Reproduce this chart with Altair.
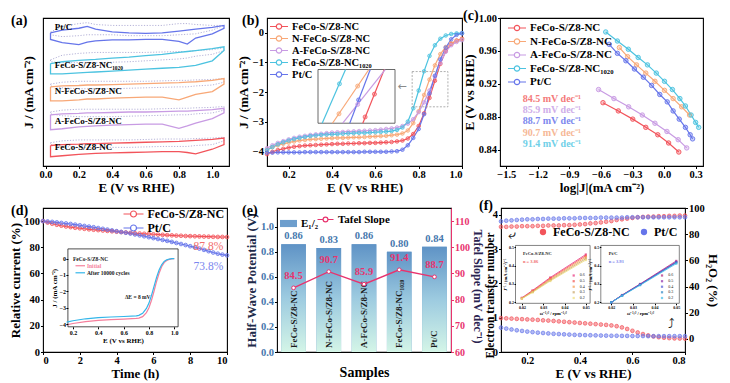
import altair as alt
import pandas as pd

FONT = "Liberation Serif"
RED, ORG, PUR, CYN, BLU = "#f2545b", "#f8a877", "#c89be3", "#4cc3e0", "#6675ea"
PINK = "#e8336e"

FECO = "FeCo-S/Z8-NC"
NFECO = "N-FeCo-S/Z8-NC"
AFECO = "A-FeCo-S/Z8-NC"
F1020 = "FeCo-S/Z8-NC₁₀₂₀"
PTC = "Pt/C"
SAMPLES = [FECO, NFECO, AFECO, F1020, PTC]
COLORS = [RED, ORG, PUR, CYN, BLU]
COLOR_OF = dict(zip(SAMPLES, COLORS))
CSCALE = alt.Scale(domain=SAMPLES, range=COLORS)

WA, WB, WC, H1 = 186, 195, 203, 148
WD, WE, WF, H2 = 184, 174, 184, 144
S1, S2 = 38, 50

LINE_SYM = "M-2,0H-0.6M0.6,0H2M0.6,0A0.6,0.6,0,1,1,-0.6,0A0.6,0.6,0,1,1,0.6,0Z"
RECT_SYM = "M-1,-0.42H1V0.42H-1Z"


def sc(domain, rng=None):
    if rng is None:
        return alt.Scale(domain=domain, nice=False, zero=False)
    return alt.Scale(domain=domain, range=rng, nice=False, zero=False)


def ptitle(t, dx, dy=10):
    return alt.TitleParams(t, anchor="start", frame="group", orient="top", offset=0,
                           baseline="top", dx=dx, dy=dy, font=FONT, fontSize=14,
                           fontWeight="bold", color="black")


def line_legend(x, y, fs=11, size=81, offset=7.5, rp=1.5):
    return alt.Legend(title=None, orient="none", legendX=x, legendY=y, direction="vertical",
                      labelFont=FONT, labelFontWeight="bold", labelFontSize=fs,
                      labelColor="black", labelLimit=250, symbolType=LINE_SYM,
                      symbolSize=size, symbolStrokeWidth=1.2, symbolFillColor="white",
                      rowPadding=rp, labelOffset=offset, padding=0)


def ins_axis(orient, offset, values, fmt, title, fs=6, tfs=7, tick=2):
    return alt.Axis(orient=orient, offset=offset, values=values, format=fmt, title=title,
                    labelFontSize=fs, titleFontSize=tfs, tickSize=tick, labelPadding=0.5,
                    titlePadding=1, domain=False, zindex=1, ticks=True, grid=False)


# ======================= (a) CV loops =======================
CV_E = [0.03, 0.1, 0.2, 0.25, 0.3, 0.4, 0.5, 0.6, 0.7, 0.8, 0.85, 0.9, 1.0, 1.07]
CV_SOLID_UP = {
    PTC:   [143, 146, 148, 150, 147, 144, 143, 142.5, 143, 145, 146, 147, 149, 151],
    F1020: [110, 112, 113.5, 114, 114.5, 116, 117, 118.5, 120, 122, 123, 124, 126, 128],
    NFECO: [85, 86, 86.5, 87, 87, 87.5, 88, 88.5, 89, 89.5, 90, 90.5, 92, 94],
    AFECO: [55, 56, 56.5, 57, 57, 57.5, 58, 58, 58.5, 59, 59, 59.5, 60.5, 62],
    FECO:  [22, 23, 23.5, 24, 24, 24.5, 25, 25.5, 26, 26.5, 27, 27.5, 28.5, 30],
}
CV_SOLID_DN = {
    PTC:   [136, 132.5, 130.5, 133, 134.5, 135.5, 135.5, 136, 136, 134, 131, 137.5, 142, 148],
    F1020: [99, 99, 100, 100.5, 101, 102, 103, 104, 105, 106, 107, 108, 113, 124],
    NFECO: [70, 70, 71, 72, 72, 73, 73.5, 74, 74, 71, 74, 77, 80, 88],
    AFECO: [39, 40, 42, 42.5, 43, 44, 44.5, 45, 45, 40.5, 43, 46, 51, 57],
    FECO:  [10, 11, 12.5, 13, 13.5, 14, 14.5, 15, 15.5, 15.5, 14.5, 13, 18, 23],
}
CV_DOT_UP = {
    PTC:   [144, 150, 153, 154, 152, 151, 151, 151, 151, 153, 153, 152, 151, 151],
    F1020: [114, 119, 121, 121.5, 122, 122, 122, 122, 122.5, 123, 123, 124, 125, 127],
    NFECO: [88, 90, 91, 91, 91, 91, 91, 91, 91.5, 92, 92, 92.5, 93, 94],
    AFECO: [58, 60, 61, 61, 61, 61, 61, 61, 61.5, 62, 62, 62.5, 63, 64],
    FECO:  [25, 27, 28, 28, 28, 28, 28, 28.5, 29, 29, 29, 29.5, 30, 31],
}
CV_DOT_DN = {
    PTC:   [141, 139, 140, 141, 141, 141, 140, 140, 140, 141, 141.5, 142, 146, 151],
    F1020: [112, 111, 111, 111, 111, 111.5, 112, 113, 114, 115, 116, 118, 120, 124],
    NFECO: [86, 84, 83, 83, 83, 83, 83.5, 84, 84.5, 85, 85, 86, 87, 90],
    AFECO: [56, 54, 53, 53, 53, 53, 53.5, 54, 54.5, 55, 55, 56, 57, 60],
    FECO:  [23, 21, 20, 20, 20, 20, 20, 20.5, 21, 21, 21, 22, 23, 27],
}
A_LAB_TEXT = [PTC, F1020, NFECO, AFECO, FECO]
A_LAB_E = [0.055, 0.055, 0.055, 0.055, 0.055]
A_LAB_J = [149, 109, 81, 48, 20]

rows = []
for s in SAMPLES:
    for kind, up, dn in (("dot", CV_DOT_UP, CV_DOT_DN), ("solid", CV_SOLID_UP, CV_SOLID_DN)):
        seq = list(zip(CV_E, up[s])) + list(zip(CV_E[::-1], dn[s][::-1])) + [(CV_E[0], up[s][0])]
        for i, (e, j) in enumerate(seq):
            rows.append({"s": s, "kind": kind, "key": s + "|" + kind, "i": i,
                         "E": e, "J": j, "hex": COLOR_OF[s]})
df_a = pd.DataFrame(rows)
df_a_lab = pd.DataFrame({"t": A_LAB_TEXT, "E": A_LAB_E, "J": A_LAB_J})

xa, ya = sc([-0.015, 1.1]), sc([0, 159])
a_dot = alt.Chart(df_a[df_a["kind"] == "dot"]).mark_line(
    strokeWidth=0.9, strokeDash=[1.2, 1.6], color="#aeaad4").encode(
    x=alt.X("E:Q", scale=xa, axis=alt.Axis(values=[0, 0.2, 0.4, 0.6, 0.8, 1.0], format=".1f",
                                             title="E (V vs RHE)")),
    y=alt.Y("J:Q", scale=ya, axis=alt.Axis(labels=False, ticks=False, title="J / (mA cm⁻²)",
                                             titlePadding=8)),
    detail="key:N", order="i:Q")
a_sol = alt.Chart(df_a[df_a["kind"] == "solid"]).mark_line(strokeWidth=1.3).encode(
    x=alt.X("E:Q", scale=xa, axis=None), y=alt.Y("J:Q", scale=ya, axis=None),
    stroke=alt.Stroke("hex:N", scale=None), detail="key:N", order="i:Q")
a_txt = alt.Chart(df_a_lab).mark_text(align="left", baseline="middle", font=FONT,
                                      fontWeight="bold", fontSize=9, color="black").encode(
    x=alt.X("E:Q", scale=xa, axis=None), y=alt.Y("J:Q", scale=ya, axis=None), text="t:N")
panel_a = alt.layer(a_dot, a_sol, a_txt).resolve_scale(
    x="independent", y="independent").properties(width=WA, height=H1, title=ptitle("(a)", -32))

# ======================= (b) LSV =======================
E_B = [0.1, 0.125, 0.15, 0.175, 0.2, 0.225, 0.25, 0.275, 0.3, 0.325, 0.35, 0.375, 0.4,
       0.425, 0.45, 0.475, 0.5, 0.525, 0.55, 0.575, 0.6, 0.625, 0.65, 0.675, 0.7, 0.725,
       0.75, 0.775, 0.8, 0.825, 0.85, 0.875, 0.9, 0.925, 0.95, 0.975, 1.0]
LSV = {
    FECO:  [-4.10, -4.02, -3.96, -3.92, -3.88, -3.85, -3.83, -3.81, -3.80, -3.79, -3.78, -3.77,
            -3.76, -3.75, -3.75, -3.74, -3.74, -3.73, -3.73, -3.72, -3.72, -3.71, -3.70, -3.69,
            -3.67, -3.64, -3.57, -3.42, -3.15, -2.72, -2.20, -1.62, -1.05, -0.62, -0.38, -0.26, -0.20],
    NFECO: [-3.95, -3.86, -3.80, -3.75, -3.71, -3.67, -3.64, -3.62, -3.60, -3.59, -3.58, -3.57,
            -3.56, -3.55, -3.55, -3.54, -3.53, -3.53, -3.52, -3.51, -3.50, -3.49, -3.48, -3.46,
            -3.44, -3.40, -3.30, -3.05, -2.65, -2.10, -1.58, -1.10, -0.72, -0.48, -0.35, -0.27, -0.22],
    AFECO: [-3.90, -3.80, -3.72, -3.66, -3.60, -3.55, -3.51, -3.48, -3.45, -3.43, -3.41, -3.39,
            -3.37, -3.36, -3.35, -3.34, -3.33, -3.32, -3.31, -3.30, -3.29, -3.27, -3.25, -3.23,
            -3.20, -3.15, -3.07, -2.92, -2.68, -2.35, -1.95, -1.48, -1.02, -0.64, -0.42, -0.31, -0.25],
    F1020: [-3.97, -3.86, -3.77, -3.70, -3.64, -3.59, -3.55, -3.52, -3.49, -3.47, -3.45, -3.44,
            -3.43, -3.42, -3.41, -3.40, -3.39, -3.38, -3.38, -3.37, -3.36, -3.35, -3.34, -3.32,
            -3.28, -3.20, -3.00, -2.55, -1.95, -1.30, -0.78, -0.42, -0.20, -0.09, -0.04, -0.02, -0.01],
    PTC:   [-4.05, -4.05, -4.04, -4.04, -4.04, -4.04, -4.04, -4.03, -4.03, -4.03, -4.03, -4.03,
            -4.03, -4.03, -4.03, -4.03, -4.03, -4.03, -4.02, -4.02, -4.02, -4.02, -4.02, -4.01,
            -4.00, -3.95, -3.80, -3.55, -3.25, -2.75, -2.05, -1.45, -0.90, -0.50, -0.22, -0.07, -0.02],
}
BOX_B = {"E": [0.77], "E2": [0.935], "J": [-2.5], "J2": [-1.31]}
INS_B_DOM_E = [0.77, 0.935]
INS_B_DOM_J = [-2.5, -1.3]
INS_B_BOT = {FECO: 0.866, NFECO: 0.801, AFECO: 0.823, F1020: 0.779, PTC: 0.838}
INS_B_TOP = {FECO: 0.912, NFECO: 0.879, AFECO: 0.914, F1020: 0.829, PTC: 0.882}
INS_B_PT_S = [F1020, NFECO, NFECO, PTC, AFECO, FECO, FECO]
INS_B_PT_E = [0.816, 0.855, 0.815, 0.857, 0.855, 0.871, 0.891]
INS_B_PT_J = [-1.62, -1.67, -2.29, -1.98, -2.08, -2.36, -1.85]

df_b = pd.DataFrame([{"s": s, "hex": COLOR_OF[s], "E": e, "J": j}
                     for s in SAMPLES for e, j in zip(E_B, LSV[s])])
xb, yb = sc([0.1, 1.0]), sc([-4.5, 0.5])
b_line = alt.Chart(df_b).mark_line(strokeWidth=1.2).encode(
    x=alt.X("E:Q", scale=xb, axis=alt.Axis(values=[0.2, 0.4, 0.6, 0.8, 1.0], format=".1f",
                                             title="E (V vs RHE)")),
    y=alt.Y("J:Q", scale=yb, axis=alt.Axis(values=[-4, -3, -2, -1, 0], format="d",
                                             title="J / (mA cm⁻²)")),
    color=alt.Color("s:N", scale=CSCALE, legend=line_legend(6.5, 3, fs=10.5, rp=1)))
b_pts = alt.Chart(df_b).mark_point(shape="circle", size=13, strokeWidth=0.8, fillOpacity=0.35).encode(
    x=alt.X("E:Q", scale=xb, axis=None), y=alt.Y("J:Q", scale=yb, axis=None),
    stroke=alt.Stroke("hex:N", scale=None), fill=alt.Fill("hex:N", scale=None))
b_box = alt.Chart(pd.DataFrame(BOX_B)).mark_rect(
    fillOpacity=0, stroke="#9a9a9a", strokeDash=[2, 1.5], strokeWidth=0.8).encode(
    x=alt.X("E:Q", scale=xb, axis=None), x2="E2:Q",
    y=alt.Y("J:Q", scale=yb, axis=None), y2="J2:Q")
b_arrow = alt.Chart(pd.DataFrame({"E": [0.724], "J": [-1.82], "t": ["←"]})).mark_text(
    font="DejaVu Sans", fontSize=11, color="#8a8a8a").encode(
    x=alt.X("E:Q", scale=xb, axis=None), y=alt.Y("J:Q", scale=yb, axis=None), text="t:N")
xbi = sc(INS_B_DOM_E, [51, 128])
ybi = sc(INS_B_DOM_J, [H1 * 0.711, H1 * 0.348])
b_ifr = alt.Chart(pd.DataFrame({"E": [INS_B_DOM_E[0]], "E2": [INS_B_DOM_E[1]],
                                "J": [INS_B_DOM_J[0]], "J2": [INS_B_DOM_J[1]]})).mark_rect(
    fill="white", stroke="#444444", strokeWidth=0.8).encode(
    x=alt.X("E:Q", scale=xbi, axis=None), x2="E2:Q",
    y=alt.Y("J:Q", scale=ybi, axis=None), y2="J2:Q")
df_bil = pd.DataFrame([{"s": s, "hex": COLOR_OF[s], "E": e, "J": j}
                       for s in SAMPLES
                       for e, j in ((INS_B_BOT[s], INS_B_DOM_J[0]), (INS_B_TOP[s], INS_B_DOM_J[1]))])
b_il = alt.Chart(df_bil).mark_line(strokeWidth=1.2).encode(
    x=alt.X("E:Q", scale=xbi, axis=None), y=alt.Y("J:Q", scale=ybi, axis=None),
    stroke=alt.Stroke("hex:N", scale=None), detail="s:N")
df_bip = pd.DataFrame({"hex": [COLOR_OF[s] for s in INS_B_PT_S], "E": INS_B_PT_E, "J": INS_B_PT_J})
b_ip = alt.Chart(df_bip).mark_point(shape="circle", size=16, strokeWidth=0.8, fillOpacity=0.35).encode(
    x=alt.X("E:Q", scale=xbi, axis=None), y=alt.Y("J:Q", scale=ybi, axis=None),
    stroke=alt.Stroke("hex:N", scale=None), fill=alt.Fill("hex:N", scale=None))
panel_b = alt.layer(b_line, b_pts, b_box, b_arrow, b_ifr, b_il, b_ip).resolve_scale(
    x="independent", y="independent").properties(width=WB, height=H1, title=ptitle("(b)", -25))

# ======================= (c) Tafel =======================
TAFEL_PTS = {
    FECO:  ([-0.581, -0.435, -0.298, -0.174, -0.060, 0.043, 0.140],
            [0.897, 0.887, 0.877, 0.867, 0.858, 0.848, 0.837]),
    NFECO: ([-0.425, -0.347, -0.262, -0.174, -0.087, 0.004, 0.086, 0.167, 0.242],
            [0.964, 0.953, 0.943, 0.933, 0.923, 0.912, 0.902, 0.892, 0.882]),
    AFECO: ([-0.623, -0.477, -0.337, -0.207, -0.087, 0.027, 0.134, 0.215],
            [0.913, 0.902, 0.892, 0.882, 0.872, 0.862, 0.852, 0.842]),
    F1020: ([-0.555, -0.444, -0.340, -0.246, -0.158, -0.074, 0.004, 0.079, 0.150, 0.203, 0.257, 0.300, 0.329],
            [0.983, 0.972, 0.962, 0.952, 0.943, 0.933, 0.923, 0.913, 0.902, 0.893, 0.882, 0.873, 0.867]),
    PTC:   ([-0.522, -0.444, -0.363, -0.282, -0.197, -0.119, -0.041, 0.030, 0.086, 0.144, 0.203, 0.248, 0.271],
            [0.968, 0.957, 0.948, 0.938, 0.928, 0.918, 0.907, 0.898, 0.887, 0.877, 0.867, 0.858, 0.853]),
}
SLOPE_TEXT = ["84.5 mV dec⁻¹", "85.9 mV dec⁻¹", "88.7 mV dec⁻¹", "90.7 mV dec⁻¹", "91.4 mV dec⁻¹"]
SLOPE_COL = ["#f47a7a", "#cfaee9", "#7d88ee", "#f6b896", "#6fd0e8"]
SLOPE_L = [-1.344, -1.344, -1.344, -1.344, -1.344]
SLOPE_E = [0.902, 0.888, 0.875, 0.860, 0.847]

df_c = pd.DataFrame([{"s": s, "hex": COLOR_OF[s], "L": l, "E": e}
                     for s in SAMPLES for l, e in zip(*TAFEL_PTS[s])])
xc, yc = sc([-1.56, 0.37]), sc([0.82, 1.0])
c_line = alt.Chart(df_c).mark_line(strokeWidth=1.2).encode(
    x=alt.X("L:Q", scale=xc, axis=alt.Axis(values=[-1.5, -1.2, -0.9, -0.6, -0.3, 0.0, 0.3],
                                             format=".1f", title="log|J|(mA cm⁻²)")),
    y=alt.Y("E:Q", scale=yc, axis=alt.Axis(values=[0.84, 0.88, 0.92, 0.96, 1.0], format=".2f",
                                             title="E (V vs RHE)")),
    color=alt.Color("s:N", scale=CSCALE, legend=line_legend(11.5, 4.5)))
c_pts = alt.Chart(df_c).mark_point(shape="circle", size=20, strokeWidth=0.9, fillOpacity=0.35).encode(
    x=alt.X("L:Q", scale=xc, axis=None), y=alt.Y("E:Q", scale=yc, axis=None),
    stroke=alt.Stroke("hex:N", scale=None), fill=alt.Fill("hex:N", scale=None))
c_txt = alt.Chart(pd.DataFrame({"t": SLOPE_TEXT, "hex": SLOPE_COL, "L": SLOPE_L, "E": SLOPE_E})).mark_text(
    align="left", baseline="middle", font=FONT, fontWeight="bold", fontSize=10).encode(
    x=alt.X("L:Q", scale=xc, axis=None), y=alt.Y("E:Q", scale=yc, axis=None), text="t:N",
    fill=alt.Fill("hex:N", scale=None))
panel_c = alt.layer(c_line, c_pts, c_txt).resolve_scale(
    x="independent", y="independent").properties(width=WC, height=H1, title=ptitle("(c)", -37))

# ======================= (d) stability =======================
T_D = [0, 0.25, 0.5, 0.75, 1, 1.25, 1.5, 1.75, 2, 2.25, 2.5, 2.75, 3, 3.25, 3.5, 3.75, 4,
       4.25, 4.5, 4.75, 5, 5.25, 5.5, 5.75, 6, 6.25, 6.5, 6.75, 7, 7.25, 7.5, 7.75, 8, 8.25,
       8.5, 8.75, 9, 9.25, 9.5, 9.75, 10]
REL_FECO = [100, 98.9, 98.0, 97.2, 96.5, 95.9, 95.4, 94.9, 94.5, 94.1, 93.7, 93.4, 93.1, 92.8,
            92.5, 92.2, 91.9, 91.6, 91.3, 91.0, 90.7, 90.5, 90.3, 90.1, 89.9, 89.7, 89.5, 89.3,
            89.1, 88.9, 88.8, 88.6, 88.5, 88.4, 88.3, 88.2, 88.1, 88.0, 87.9, 87.9, 87.8]
REL_PT = [100, 99.7, 99.4, 99.0, 98.6, 98.2, 97.8, 97.3, 96.8, 96.3, 95.8, 95.3, 94.7, 94.1,
          93.5, 92.9, 92.3, 91.7, 91.1, 90.5, 89.8, 89.1, 88.4, 87.7, 87.0, 86.3, 85.6, 84.9,
          84.1, 83.3, 82.5, 81.7, 80.8, 79.9, 79.0, 78.0, 77.0, 76.0, 75.1, 74.4, 73.8]
D_END_TEXT = ["87.8%", "73.8%"]
D_END_COL = ["#f26d6d", "#7b86ee"]
D_END_T = [9.8, 9.8]
D_END_Y = [80.5, 65.0]
INIT_C, AFTER_C = "#f57f9c", "#33b6ea"
INS_D_E = [0.15, 0.2, 0.3, 0.4, 0.5, 0.6, 0.7, 0.72, 0.75, 0.78, 0.8, 0.82, 0.84, 0.86, 0.88,
           0.9, 0.92, 0.94, 0.96, 0.98, 1.0]
INS_D_INIT = [-4.05, -3.97, -3.85, -3.78, -3.73, -3.70, -3.66, -3.64, -3.55, -3.30, -3.00,
              -2.55, -2.0, -1.4, -0.9, -0.5, -0.25, -0.12, -0.05, -0.02, -0.01]
INS_D_AFTER = [-3.88, -3.80, -3.68, -3.61, -3.57, -3.54, -3.50, -3.47, -3.35, -3.05, -2.72,
               -2.25, -1.7, -1.15, -0.7, -0.38, -0.18, -0.08, -0.03, -0.01, 0.0]
INS_D_DOM_E = [0.16, 1.03]
INS_D_DOM_J = [-4.17, 0.59]
D_IN_TOP, D_IN_BOT = H2 * 0.284, H2 * 0.825

DSC = alt.Scale(domain=[FECO, PTC], range=[RED, BLU])
df_d = pd.DataFrame([{"s": s, "hex": COLOR_OF[s], "t": t, "r": r}
                     for s, vals in ((FECO, REL_FECO), (PTC, REL_PT)) for t, r in zip(T_D, vals)])
xd, yd = sc([0, 10]), sc([0, 110])
d_line = alt.Chart(df_d).mark_line(strokeWidth=1.1).encode(
    x=alt.X("t:Q", scale=xd, axis=alt.Axis(values=[0, 2, 4, 6, 8, 10], format="d", title="Time (h)")),
    y=alt.Y("r:Q", scale=yd, axis=alt.Axis(values=[0, 20, 40, 60, 80, 100], format="d",
                                             title="Relative current (%)")),
    color=alt.Color("s:N", scale=DSC, legend=line_legend(84.5, 0, fs=12, size=100, offset=8, rp=2)))
d_pts = alt.Chart(df_d).mark_point(shape="circle", size=14, strokeWidth=0.8, fillOpacity=0.3).encode(
    x=alt.X("t:Q", scale=xd, axis=None), y=alt.Y("r:Q", scale=yd, axis=None),
    stroke=alt.Stroke("hex:N", scale=None), fill=alt.Fill("hex:N", scale=None))
d_end = alt.Chart(pd.DataFrame({"txt": D_END_TEXT, "hex": D_END_COL, "t": D_END_T, "r": D_END_Y})).mark_text(
    align="right", baseline="middle", font=FONT, fontSize=11.5).encode(
    x=alt.X("t:Q", scale=xd, axis=None), y=alt.Y("r:Q", scale=yd, axis=None), text="txt:N",
    fill=alt.Fill("hex:N", scale=None))
xdi = sc(INS_D_DOM_E, [24.9, 135.1])
ydi = sc(INS_D_DOM_J, [D_IN_BOT, D_IN_TOP])
d_ifr = alt.Chart(pd.DataFrame({"E": [INS_D_DOM_E[0]], "E2": [INS_D_DOM_E[1]],
                                "J": [INS_D_DOM_J[0]], "J2": [INS_D_DOM_J[1]]})).mark_rect(
    fill="white", stroke="#222222", strokeWidth=0.8).encode(
    x=alt.X("E:Q", scale=xdi, axis=ins_axis("bottom", -(H2 - D_IN_BOT), [0.2, 0.4, 0.6, 0.8, 1.0],
                                            ".1f", "E (V vs RHE)")),
    x2="E2:Q",
    y=alt.Y("J:Q", scale=ydi, axis=ins_axis("left", -24.9, [-4, -3, -2, -1, 0], "d",
                                            "J / (mA cm⁻²)")),
    y2="J2:Q")
df_dil = pd.DataFrame([{"s": s, "hex": c, "E": e, "J": j}
                       for s, c, vals in (("Initial", INIT_C, INS_D_INIT), ("After", AFTER_C, INS_D_AFTER))
                       for e, j in zip(INS_D_E, vals)])
d_il = alt.Chart(df_dil).mark_line(strokeWidth=1.2).encode(
    x=alt.X("E:Q", scale=xdi, axis=None), y=alt.Y("J:Q", scale=ydi, axis=None),
    stroke=alt.Stroke("hex:N", scale=None), detail="s:N")
d_ileg = alt.Chart(pd.DataFrame({"E": [0.22, 0.22], "E2": [0.295, 0.295], "J": [-0.44, -0.87],
                                 "hex": [INIT_C, AFTER_C]})).mark_rule(strokeWidth=1.2).encode(
    x=alt.X("E:Q", scale=xdi, axis=None), x2="E2:Q", y=alt.Y("J:Q", scale=ydi, axis=None),
    stroke=alt.Stroke("hex:N", scale=None))
d_itxt = alt.Chart(pd.DataFrame({
    "t": [FECO, "Initial", "After 10000 cycles", "ΔE = 8 mV"],
    "E": [0.20, 0.31, 0.31, 0.61], "J": [0.0, -0.44, -0.87, -2.34],
    "hex": ["#222222", INIT_C, "#222222", "#222222"]})).mark_text(
    align="left", baseline="middle", font=FONT, fontWeight="bold", fontSize=5.5).encode(
    x=alt.X("E:Q", scale=xdi, axis=None), y=alt.Y("J:Q", scale=ydi, axis=None), text="t:N",
    fill=alt.Fill("hex:N", scale=None))
panel_d = alt.layer(d_line, d_pts, d_end, d_ifr, d_il, d_ileg, d_itxt).resolve_scale(
    x="independent", y="independent").properties(width=WD, height=H2, title=ptitle("(d)", -32))

# ======================= (e) bars + Tafel =======================
E12 = [0.86, 0.83, 0.86, 0.80, 0.84]
TAFEL = [84.5, 90.7, 85.9, 91.4, 88.7]
df_e = pd.DataFrame({"s": SAMPLES, "e12": E12, "tafel": TAFEL,
                     "lab1": ["E₁/₂"] * 5, "lab2": ["Tafel Slope"] * 5})
xe = alt.Scale(domain=SAMPLES, paddingInner=0.3, paddingOuter=0.12)
yel = sc([0, 1.15])
yer = sc([60, 115])
e_bar = alt.Chart(df_e).mark_bar().encode(
    x=alt.X("s:N", scale=xe, sort=None,
            axis=alt.Axis(labels=False, ticks=False, title="Samples", titleFontSize=14, titlePadding=13)),
    y=alt.Y("e12:Q", scale=yel, axis=alt.Axis(values=[0, 0.2, 0.4, 0.6, 0.8, 1.0], format=".1f",
                                                title="Half-Wave Potential (V)", labelColor="#4677ad",
                                                titleColor="#1e2b4a")),
    fill=alt.Fill("lab1:N", scale=alt.Scale(domain=["E₁/₂"], range=["#6d9ecd"]),
                  legend=alt.Legend(title=None, orient="none", legendX=2, legendY=6,
                                    symbolType=RECT_SYM, symbolSize=289, labelFont=FONT,
                                    labelFontWeight="bold", labelFontSize=11, labelOffset=3,
                                    padding=0)))
e_grad = alt.Chart(df_e).mark_bar(color=alt.Gradient(
    gradient="linear",
    stops=[alt.GradientStop(color="#5f93c6", offset=0), alt.GradientStop(color="#9dcbe0", offset=0.5),
           alt.GradientStop(color="#d4f5e7", offset=1)],
    x1=0, x2=0, y1=0, y2=1)).encode(
    x=alt.X("s:N", scale=xe, sort=None), y=alt.Y("e12:Q", scale=yel, axis=None))
e_val = alt.Chart(df_e).mark_text(baseline="bottom", dy=-3, font=FONT, fontWeight="bold",
                                  fontSize=10.5, color="#4677ad").encode(
    x=alt.X("s:N", scale=xe, sort=None), y=alt.Y("e12:Q", scale=yel, axis=None),
    text=alt.Text("e12:Q", format=".2f"))
e_name = alt.Chart(df_e).transform_calculate(zero="0").mark_text(
    angle=270, align="left", baseline="middle", dx=4, font=FONT, fontWeight="bold",
    fontSize=9, color="#1a1a1a").encode(
    x=alt.X("s:N", scale=xe, sort=None), y=alt.Y("zero:Q", scale=yel, axis=None), text="s:N")
e_line = alt.Chart(df_e).mark_line(strokeWidth=1.3).encode(
    x=alt.X("s:N", scale=xe, sort=None),
    y=alt.Y("tafel:Q", scale=yer, axis=alt.Axis(orient="right", values=[60, 70, 80, 90, 100, 110],
                                                  format="d", title="Tafel Slope (mV dec⁻¹)",
                                                  labelColor=PINK, titleColor="#2a2350",
                                                  domain=True, domainColor=PINK, tickColor=PINK,
                                                  labelFontSize=10, titleFontSize=12,
                                                  titlePadding=1, titleY=H2 / 2 + 6)),
    color=alt.Color("lab2:N", scale=alt.Scale(domain=["Tafel Slope"], range=[PINK]),
                    legend=line_legend(43, 6, fs=11, size=64, offset=7)))
e_pts = alt.Chart(df_e).mark_point(shape="circle", size=14, strokeWidth=1, color=PINK,
                                   fill="white", fillOpacity=1).encode(
    x=alt.X("s:N", scale=xe, sort=None), y=alt.Y("tafel:Q", scale=yer, axis=None))
e_tlab = alt.Chart(df_e).mark_text(baseline="bottom", dy=-7, font=FONT, fontWeight="bold",
                                   fontSize=10.5, color=PINK).encode(
    x=alt.X("s:N", scale=xe, sort=None), y=alt.Y("tafel:Q", scale=yer, axis=None),
    text=alt.Text("tafel:Q", format=".1f"))
panel_e = alt.layer(e_bar, e_grad, e_val, e_name, e_line, e_pts, e_tlab).resolve_scale(
    y="independent").properties(width=WE, height=H2, title=ptitle("(e)", -35))

# ======================= (f) RRDE + K-L insets =======================
E_F = [0.10, 0.12, 0.14, 0.16, 0.18, 0.20, 0.22, 0.24, 0.26, 0.28, 0.30, 0.32, 0.34, 0.36,
       0.38, 0.40, 0.42, 0.44, 0.46, 0.48, 0.50, 0.52, 0.54, 0.56, 0.58, 0.60, 0.62, 0.64,
       0.66, 0.68, 0.70, 0.72, 0.74, 0.76, 0.78, 0.80]
N_FECO = [3.65, 3.65, 3.66, 3.66, 3.67, 3.67, 3.67, 3.68, 3.68, 3.69, 3.69, 3.69, 3.70, 3.70,
          3.71, 3.72, 3.73, 3.75, 3.76, 3.78, 3.80, 3.82, 3.85, 3.87, 3.89, 3.91, 3.93, 3.94,
          3.95, 3.95, 3.96, 3.96, 3.97, 3.97, 3.98, 3.98]
N_PT = [3.81, 3.83, 3.84, 3.85, 3.86, 3.87, 3.87, 3.88, 3.88, 3.89, 3.89, 3.89, 3.90, 3.90,
        3.90, 3.91, 3.91, 3.91, 3.91, 3.92, 3.92, 3.92, 3.92, 3.92, 3.93, 3.93, 3.93, 3.93,
        3.93, 3.93, 3.93, 3.93, 3.93, 3.93, 3.93, 3.93]
H_FECO = [15.9, 15.7, 15.5, 15.3, 15.1, 14.9, 14.7, 14.5, 14.2, 14.0, 13.7, 13.4, 13.1, 12.8,
          12.5, 12.2, 11.9, 11.6, 11.3, 11.0, 10.7, 10.3, 9.7, 8.8, 7.6, 6.2, 4.9, 3.7, 2.7,
          1.9, 1.3, 0.9, 0.6, 0.4, 0.3, 0.2]
H_PT = [8.6, 7.9, 7.2, 6.6, 6.1, 5.6, 5.2, 4.8, 4.5, 4.2, 3.9, 3.7, 3.5, 3.3, 3.1, 3.0, 2.9,
        2.8, 2.7, 2.6, 2.5, 2.4, 2.4, 2.3, 2.3, 2.2, 2.2, 2.2, 2.1, 2.1, 2.1, 2.1, 2.1, 2.1,
        2.1, 2.1]
KL_W = [0.02, 0.025, 0.0333, 0.05]
KL_POT = ["0.6", "0.5", "0.4", "0.3", "0.2"]
KL_FECO = {"0.6": [0.225, 0.265, 0.335, 0.460], "0.5": [0.223, 0.262, 0.330, 0.453],
           "0.4": [0.222, 0.259, 0.325, 0.445], "0.3": [0.221, 0.257, 0.320, 0.437],
           "0.2": [0.220, 0.254, 0.316, 0.430]}
KL_PT = {"0.6": [0.200, 0.240, 0.300, 0.425], "0.5": [0.200, 0.239, 0.298, 0.420],
         "0.4": [0.200, 0.238, 0.297, 0.418], "0.3": [0.200, 0.237, 0.295, 0.415],
         "0.2": [0.200, 0.236, 0.293, 0.410]}
KL_FECO_COL = ["#e8307e", "#f2504a", "#f59a4a", "#c8a464", "#eedd7a"]
KL_PT_COL = ["#b4247a", "#8e2aa8", "#4f58d4", "#2a86c4", "#46bde8"]
KL_LEG_Y = [0.346, 0.315, 0.285, 0.255, 0.224]
KL_DOM_J = [0.195, 0.509]
F_IN_TOP, F_IN_BOT = H2 * 0.26, H2 * 0.662

FSC = alt.Scale(domain=[FECO, PTC], range=[RED, BLU])
df_fn = pd.DataFrame([{"s": s, "hex": COLOR_OF[s], "E": e, "v": v}
                      for s, vals in ((FECO, N_FECO), (PTC, N_PT)) for e, v in zip(E_F, vals)])
df_fh = pd.DataFrame([{"s": s, "hex": COLOR_OF[s], "E": e, "v": v}
                      for s, vals in ((FECO, H_FECO), (PTC, H_PT)) for e, v in zip(E_F, vals)])
xf, yfn, yfh = sc([0.1, 0.8]), sc([0, 4.2]), sc([-10, 100])
f_n = alt.Chart(df_fn).mark_point(shape="circle", size=14, strokeWidth=0.7, filled=True,
                                  fillOpacity=0.5).encode(
    x=alt.X("E:Q", scale=xf, axis=alt.Axis(values=[0.2, 0.4, 0.6, 0.8], format=".1f",
                                             title="E (V vs RHE)")),
    y=alt.Y("v:Q", scale=yfn, axis=alt.Axis(values=[0, 1, 2, 3, 4], format="d",
                                              title="Electron transfer number", titleFontSize=11.5,
                                              titlePadding=-3, titleY=H2 / 2 + 15)),
    color=alt.Color("s:N", scale=FSC, legend=alt.Legend(
        title=None, orient="none", legendX=36, legendY=18, direction="horizontal",
        symbolType="circle", symbolSize=40, symbolStrokeWidth=0.8, labelFont=FONT,
        labelFontWeight="bold", labelFontSize=12, columnPadding=8, labelOffset=4, padding=0)),
    stroke=alt.Stroke("hex:N", scale=None))
f_h = alt.Chart(df_fh).mark_point(shape="circle", size=14, strokeWidth=0.7, fillOpacity=0.5).encode(
    x=alt.X("E:Q", scale=xf, axis=None),
    y=alt.Y("v:Q", scale=yfh, axis=alt.Axis(orient="right", values=[0, 20, 40, 60, 80, 100],
                                              format="d", title="H₂O₂ (%)")),
    stroke=alt.Stroke("hex:N", scale=None), fill=alt.Fill("hex:N", scale=None))
f_arr = alt.Chart(pd.DataFrame({"E": [0.14, 0.749], "v": [3.41, 0.83], "t": ["⤶", "⤴"]})).mark_text(
    font="DejaVu Sans", fontSize=13, color="#222222").encode(
    x=alt.X("E:Q", scale=xf, axis=None), y=alt.Y("v:Q", scale=yfn, axis=None), text="t:N")


def kl_inset(dom_w, xr, yoff, kl, cols, title, ntext, ncol):
    xs = sc(dom_w, xr)
    ys = sc(KL_DOM_J, [F_IN_BOT, F_IN_TOP])
    fr = alt.Chart(pd.DataFrame({"w": [dom_w[0]], "w2": [dom_w[1]], "j": [KL_DOM_J[0]],
                                 "j2": [KL_DOM_J[1]]})).mark_rect(
        fill="white", stroke="#333333", strokeWidth=0.6).encode(
        x=alt.X("w:Q", scale=xs, axis=ins_axis("bottom", -(H2 - F_IN_BOT), [0.02, 0.03, 0.04, 0.05],
                                               ".2f", "ω⁻¹/² / rpm⁻¹/²", fs=4, tfs=4.5, tick=1.5)),
        x2="w2:Q",
        y=alt.Y("j:Q", scale=ys, axis=ins_axis("left", -yoff, [0.2, 0.3, 0.4, 0.5], ".1f",
                                               "J⁻¹ / (mA cm⁻²)⁻¹", fs=4, tfs=4.5, tick=1.5)),
        y2="j2:Q")
    df = pd.DataFrame([{"p": p, "hex": c, "w": w, "j": j}
                       for p, c in zip(KL_POT, cols) for w, j in zip(KL_W, kl[p])])
    ln = alt.Chart(df).mark_line(strokeWidth=0.8).encode(
        x=alt.X("w:Q", scale=xs, axis=None), y=alt.Y("j:Q", scale=ys, axis=None),
        stroke=alt.Stroke("hex:N", scale=None), detail="p:N")
    pt = alt.Chart(df).mark_point(shape="square", size=5, filled=True).encode(
        x=alt.X("w:Q", scale=xs, axis=None), y=alt.Y("j:Q", scale=ys, axis=None),
        fill=alt.Fill("hex:N", scale=None))
    lx = dom_w[0] + 0.78 * (dom_w[1] - dom_w[0])
    tx = dom_w[0] + 0.86 * (dom_w[1] - dom_w[0])
    lg = alt.Chart(pd.DataFrame({"w": [lx] * 5, "j": KL_LEG_Y, "hex": cols})).mark_point(
        shape="square", size=5, filled=True).encode(
        x=alt.X("w:Q", scale=xs, axis=None), y=alt.Y("j:Q", scale=ys, axis=None),
        fill=alt.Fill("hex:N", scale=None))
    lt = alt.Chart(pd.DataFrame({"w": [tx] * 5, "j": KL_LEG_Y, "t": KL_POT})).mark_text(
        align="left", baseline="middle", font=FONT, fontSize=4, color="#222222").encode(
        x=alt.X("w:Q", scale=xs, axis=None), y=alt.Y("j:Q", scale=ys, axis=None), text="t:N")
    hx = dom_w[0] + 0.1 * (dom_w[1] - dom_w[0])
    tt = alt.Chart(pd.DataFrame({"w": [hx, hx], "j": [0.463, 0.421], "t": [title, ntext],
                                 "hex": ["#222222", ncol]})).mark_text(
        align="left", baseline="middle", font=FONT, fontWeight="bold", fontSize=4.5).encode(
        x=alt.X("w:Q", scale=xs, axis=None), y=alt.Y("j:Q", scale=ys, axis=None), text="t:N",
        fill=alt.Fill("hex:N", scale=None))
    return [fr, ln, pt, lg, lt, tt]


f_ins = (kl_inset([0.017, 0.052], [14.5, 89.1], 14.5, KL_FECO, KL_FECO_COL, FECO, "n = 3.86", "#f06a6a")
         + kl_inset([0.0152, 0.0514], [99.8, 178.3], 99.8, KL_PT, KL_PT_COL, PTC, "n = 3.93", "#7b86ee"))
panel_f = alt.layer(f_n, f_h, f_arr, *f_ins).resolve_scale(
    x="independent", y="independent").properties(width=WF, height=H2, title=ptitle("(f)", -22))

# ======================= assemble =======================
IND = dict(color="independent", fill="independent", stroke="independent")
row1 = alt.hconcat(panel_a, panel_b, panel_c, spacing=S1, bounds="flush").resolve_scale(
    **IND).resolve_legend(color="independent", fill="independent")
row2 = alt.hconcat(panel_d, panel_e, panel_f, spacing=S2, bounds="flush").resolve_scale(
    **IND).resolve_legend(color="independent", fill="independent")
chart = alt.vconcat(row1, row2, spacing=2).resolve_scale(**IND).resolve_legend(
    color="independent", fill="independent").properties(
    padding=0, background="white").configure_axis(
    labelFont=FONT, titleFont=FONT, labelFontWeight="bold", titleFontWeight="bold",
    labelFontSize=10.5, titleFontSize=13, labelColor="black", titleColor="black",
    tickColor="black", domain=False, grid=False, tickSize=2.5, labelPadding=1,
    titlePadding=1.5, labelOverlap=False
).configure_view(stroke="black", strokeWidth=1.1)

chart.save("out.html", embed_options={"renderer": "svg", "actions": False})
